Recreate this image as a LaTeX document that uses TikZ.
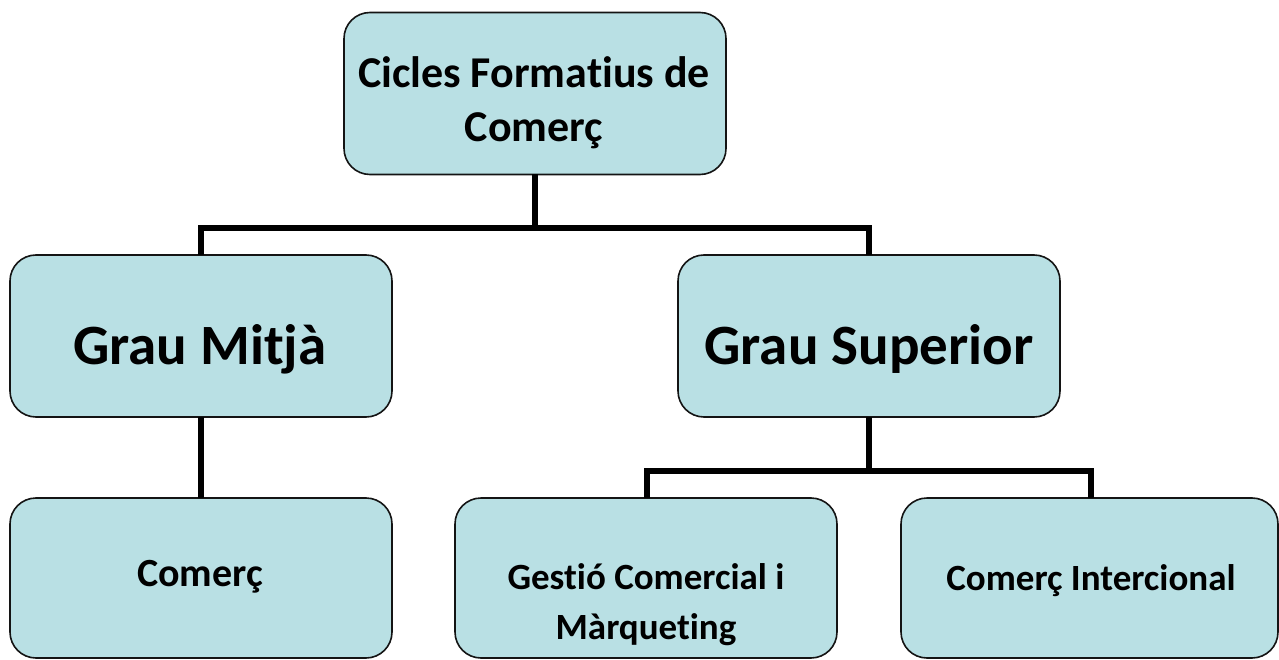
\documentclass[tikz,border=0pt]{standalone}
\usepackage{fontspec}
\setmainfont{Carlito}[Ligatures=NoCommon]
\definecolor{boxfill}{RGB}{185,224,228}
\definecolor{boxline}{RGB}{20,20,20}
\begin{document}
\begin{tikzpicture}[x=1pt,y=-1pt,
  box/.style={draw=boxline, line width=1.6pt, fill=boxfill, rounded corners=26pt,
    minimum width=382pt, minimum height=162pt, inner sep=0pt, outer sep=0pt, anchor=center},
  conn/.style={line width=5.5pt, black, line join=miter},
  txt/.style={anchor=base, inner sep=0pt, font=\bfseries},
  big/.style={txt, font=\fontsize{57}{60}\selectfont\bfseries},
  mid/.style={txt, font=\fontsize{44}{50}\selectfont\bfseries},
  small/.style={txt, font=\fontsize{37}{44}\selectfont\bfseries}]
\useasboundingbox (0,0) rectangle (1279,660);
% boxes
\node[box] (top) at (535,93.5) {};
\node[box] (gm) at (201,336) {};
\node[box] (gs) at (869,336) {};
\node[box, minimum height=160pt] (c) at (201,578) {};
\node[box, minimum height=160pt] (gc) at (646,578) {};
\node[box, minimum height=160pt, minimum width=377pt] (ci) at (1089.5,578) {};
% texts
\node[mid] (t1) at (534,88) {Cicles Formatius de};
\node[mid] (t2) at (534,142) {Comerç};
\node[big] (tgm) at (200,364) {Grau Mitjà};
\node[big] (tgs) at (869,364) {Grau Superior};
\node[small, font=\fontsize{40}{44}\selectfont\bfseries] (tc) at (200,586) {Comerç};
\node[small] (tgc1) at (646,589) {Gestió Comercial i};
\node[small] (tgc2) at (646,639) {Màrqueting};
\node[small] (tci) at (1091,590) {Comerç Intercional};
% connectors
\coordinate (j1) at (535,228);
\coordinate (j2) at (869,471);
\draw[conn] (top.south) -- (j1);
\draw[conn] (gm.north) |- (j1) -| (gs.north);
\draw[conn] (gm.south) -- (c.north);
\draw[conn] (gs.south) -- (j2);
\draw[conn] ([xshift=1pt]gc.north) |- (j2) -| ([xshift=1.5pt]ci.north);
\end{tikzpicture}
\end{document}
